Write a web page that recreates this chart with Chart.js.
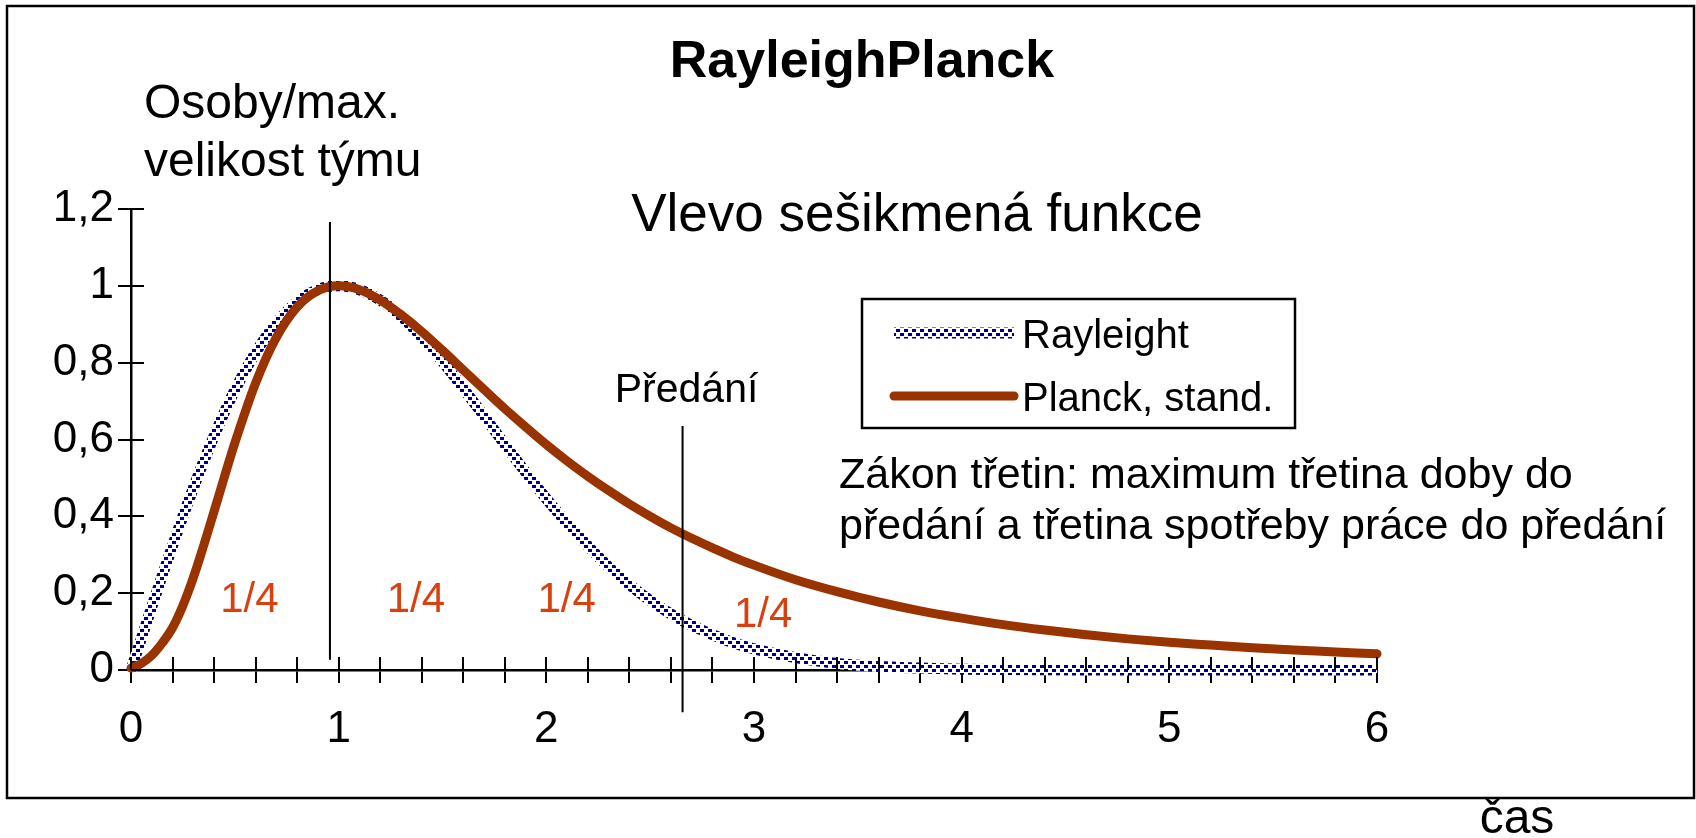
<!DOCTYPE html>
<html>
<head>
<meta charset="utf-8">
<script src="https://cdn.jsdelivr.net/npm/chart.js"></script>
<style>
html,body{margin:0;padding:0;background:#fff;}
#wrap{width:1696px;height:838px;position:relative;}
</style>
</head>
<body>
<div id="wrap"><canvas id="c" width="1696" height="838"></canvas></div>
<script>
// ---------- data ----------
const timeValues = [0,0.05,0.1,0.15,0.2,0.25,0.3,0.35,0.4,0.45,0.5,0.6,0.7,0.8,0.9,1.0,1.1,1.2,1.3,1.4,1.5,1.6,1.7,1.8,1.9,2.0,2.1,2.2,2.3,2.4,2.5,2.6,2.7,2.8,2.9,3.0,3.2,3.4,3.6,3.8,4.0,4.2,4.4,4.6,4.8,5.0,5.2,5.4,5.6,5.8,6.0];
const rayleighValues = [0,0.082,0.164,0.245,0.323,0.400,0.473,0.543,0.609,0.671,0.728,0.826,0.903,0.958,0.990,1.000,0.990,0.963,0.921,0.866,0.803,0.733,0.661,0.587,0.515,0.446,0.382,0.323,0.269,0.222,0.181,0.146,0.116,0.092,0.071,0.055,0.032,0.017,0.009,0.005,0.002,0.001,0.0004,0.0002,0.0001,0,0,0,0,0,0];
const planckValues = [0.005,0.017,0.038,0.070,0.110,0.168,0.240,0.324,0.413,0.503,0.591,0.747,0.866,0.945,0.987,1.000,0.990,0.963,0.925,0.881,0.832,0.781,0.730,0.680,0.633,0.587,0.544,0.504,0.467,0.432,0.400,0.370,0.343,0.318,0.294,0.273,0.235,0.204,0.177,0.154,0.135,0.118,0.104,0.092,0.081,0.072,0.065,0.058,0.052,0.047,0.042];
const seriesNames = ['Rayleight','Planck, stand.'];
const xTickLabels = ['0','1','2','3','4','5','6'];
const yTickLabels = ['0','0,2','0,4','0,6','0,8','1','1,2'];
const peakMarkX = [0.958,0.958];
const peakMarkY = [0.027,1.166];
const handoverMarkX = [2.656,2.656];
const handoverMarkY = [-0.11,0.635];
const quarterText = ['1/4','1/4','1/4','1/4'];
const quarterX = [0.57,1.372,2.098,3.044];
const quarterY = [0.15,0.15,0.15,0.111];

// ---------- styles ----------
const FONT = '"Liberation Sans", Arial, Helvetica, sans-serif';
const NAVY = '#000080';
const BROWN = '#993300';
const QUARTER_COLOR = '#d9400f';

function makeDotPattern(){
  const c = document.createElement('canvas');
  c.width = 8; c.height = 8;
  const g = c.getContext('2d');
  g.fillStyle = '#ffffff'; g.fillRect(0,0,8,8);
  g.fillStyle = NAVY;
  g.fillRect(0,1,4,3);
  g.fillRect(4,5,4,3);
  return g.createPattern(c,'repeat');
}
const dotPattern = makeDotPattern();

const pts = (xs, ys) => xs.map((x,i)=>({x:x, y:ys[i]}));

const overlayPlugin = {
  id: 'overlay',
  afterDatasetsDraw(chart){
    const ctx = chart.ctx;
    const xs = chart.scales.x, ys = chart.scales.y;
    const ca = chart.chartArea;
    ctx.save();
    ctx.strokeStyle = '#000'; ctx.lineWidth = 2;
    xs.ticks.forEach((t,i)=>{
      const px = Math.round(xs.getPixelForTick(i));
      ctx.beginPath(); ctx.moveTo(px, ca.bottom); ctx.lineTo(px, ca.bottom-13); ctx.stroke();
    });
    ys.ticks.forEach((t,i)=>{
      const py = Math.round(ys.getPixelForTick(i));
      ctx.beginPath(); ctx.moveTo(ca.left, py); ctx.lineTo(ca.left+13, py); ctx.stroke();
    });
    ctx.restore();
  },
  afterDraw(chart){
    const ctx = chart.ctx;
    const xs = chart.scales.x, ys = chart.scales.y;
    ctx.save();
    ctx.strokeStyle = '#000'; ctx.lineWidth = 2.5;
    ctx.strokeRect(7,6,1687,792);

    ctx.fillStyle = '#000';
    ctx.textBaseline = 'alphabetic';
    ctx.font = 'bold 52px ' + FONT;
    ctx.textAlign = 'center';
    ctx.fillText('RayleighPlanck', 862, 77);
    ctx.font = '48px ' + FONT;
    ctx.textAlign = 'left';
    ctx.fillText('Osoby/max.', 144, 118);
    ctx.fillText('velikost týmu', 144, 176);
    ctx.font = '53px ' + FONT;
    ctx.textAlign = 'center';
    ctx.fillText('Vlevo sešikmená funkce', 917, 231);
    ctx.font = '41px ' + FONT;
    ctx.fillText('Předání', xs.getPixelForValue(handoverMarkX[0]) + 4, 402);
    ctx.textAlign = 'left';
    ctx.font = '43px ' + FONT;
    ctx.fillText('Zákon třetin: maximum třetina doby do', 839, 488);
    ctx.fillText('předání a třetina spotřeby práce do předání', 839, 539);
    ctx.font = '48px ' + FONT;
    ctx.textAlign = 'center';
    ctx.fillText('čas', 1517, 833);
    ctx.font = '42px ' + FONT;
    ctx.fillStyle = QUARTER_COLOR;
    quarterText.forEach((t,i)=>{
      ctx.fillText(t, xs.getPixelForValue(quarterX[i]), ys.getPixelForValue(quarterY[i]));
    });

    const ds = chart.data.datasets;
    ctx.strokeStyle = '#000'; ctx.lineWidth = 2.5;
    ctx.strokeRect(862,299,433,129);
    ctx.font = '40px ' + FONT;
    ctx.textAlign = 'left';
    ctx.fillStyle = '#000';
    const rows = [333, 396];
    [0,1].forEach(i=>{
      const d = ds[i];
      ctx.save();
      ctx.strokeStyle = d.borderColor;
      ctx.lineWidth = d.borderWidth;
      ctx.lineCap = d.borderCapStyle || 'butt';
      ctx.beginPath(); ctx.moveTo(894, rows[i]); ctx.lineTo(1014, rows[i]); ctx.stroke();
      ctx.restore();
      ctx.fillText(d.label, 1022, rows[i] + 15);
    });
    ctx.restore();
  }
};

new Chart(document.getElementById('c'), {
  type: 'line',
  data: {
    datasets: [
      { label: seriesNames[0], data: pts(timeValues, rayleighValues), borderColor: dotPattern, borderWidth: 11,
        pointRadius: 0, cubicInterpolationMode: 'monotone', fill: false, clip: false, order: 3 },
      { label: seriesNames[1], data: pts(timeValues, planckValues), borderColor: BROWN, borderWidth: 9, borderCapStyle: 'round',
        pointRadius: 0, cubicInterpolationMode: 'monotone', fill: false, clip: false, order: 2 },
      { label: 'peak', data: pts(peakMarkX, peakMarkY), borderColor: '#000', borderWidth: 2, pointRadius: 0, clip: false, order: 1 },
      { label: 'handover', data: pts(handoverMarkX, handoverMarkY), borderColor: '#000', borderWidth: 2, pointRadius: 0, clip: false, order: 1 }
    ]
  },
  options: {
    responsive: false,
    animation: false,
    events: [],
    layout: { padding: { left: 0, top: 209, right: 319, bottom: 0 } },
    plugins: { legend: { display: false }, title: { display: false }, tooltip: { enabled: false } },
    scales: {
      x: {
        type: 'linear', min: 0, max: 6,
        afterFit(s){ s.height = 168; },
        ticks: {
          stepSize: 0.2, autoSkip: false, maxRotation: 0, padding: 20,
          color: '#000', font: { family: FONT, size: 44 },
          callback(v, i){ return (i % 5 === 0) ? xTickLabels[i/5] : ''; }
        },
        grid: { display: true, drawOnChartArea: false, drawTicks: true, tickLength: 13, color: '#000', lineWidth: 2 },
        border: { display: true, color: '#000', width: 2.5 }
      },
      y: {
        type: 'linear', min: 0, max: 1.2,
        afterFit(s){ s.width = 131; },
        ticks: {
          stepSize: 0.2, autoSkip: false, padding: 4,
          color: '#000', font: { family: FONT, size: 44 },
          callback(v, i){ return yTickLabels[i]; }
        },
        grid: { display: true, drawOnChartArea: false, drawTicks: true, tickLength: 13, color: '#000', lineWidth: 2 },
        border: { display: true, color: '#000', width: 2.5 }
      }
    }
  },
  plugins: [overlayPlugin]
});
</script>
</body>
</html>
